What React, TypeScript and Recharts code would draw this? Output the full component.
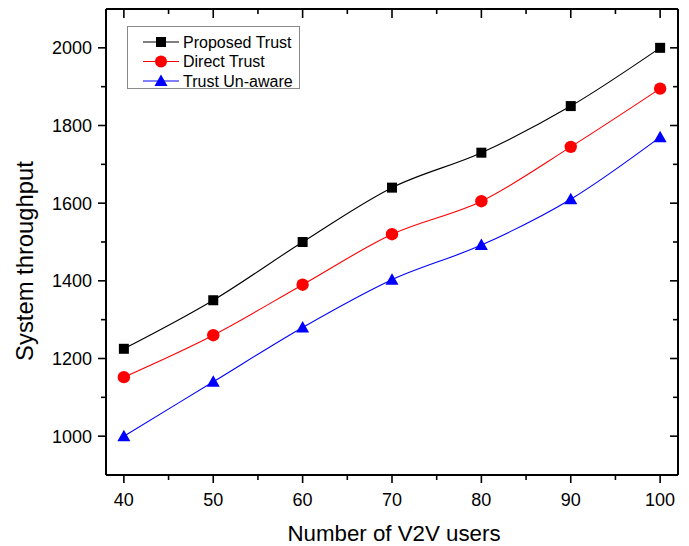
import React from 'react';
import { LineChart, Line, XAxis, YAxis } from 'recharts';

const xValues = [40, 50, 60, 70, 80, 90, 100];
const proposedTrust = [1225, 1350, 1500, 1640, 1730, 1850, 2000];
const directTrust = [1152, 1260, 1390, 1520, 1605, 1745, 1895];
const trustUnaware = [1000, 1140, 1280, 1403, 1492, 1610, 1770];

const xTicks = [40, 45, 50, 55, 60, 65, 70, 75, 80, 85, 90, 95, 100];
const yTicks = [1000, 1100, 1200, 1300, 1400, 1500, 1600, 1700, 1800, 1900, 2000];

const data = xValues.map((x, i) => ({
  x,
  proposed: proposedTrust[i],
  direct: directTrust[i],
  unaware: trustUnaware[i],
}));

const FONT = '"Liberation Sans", Arial, sans-serif';

const BottomTick = (props: any) => {
  const { x, y, payload } = props;
  const major = payload.value % 10 === 0;
  return (
    <g>
      <line x1={x} y1={y} x2={x} y2={y + (major ? 8 : 5)} stroke="#000" strokeWidth={1.6} />
      {major && (
        <text x={x} y={y + 31} textAnchor="middle" fontSize={18} fontFamily={FONT} fill="#000">
          {payload.value}
        </text>
      )}
    </g>
  );
};

const TopTick = (props: any) => {
  const { x, y, payload } = props;
  const major = payload.value % 10 === 0;
  return <line x1={x} y1={y} x2={x} y2={y + (major ? 9 : 5)} stroke="#000" strokeWidth={1.6} />;
};

const LeftTick = (props: any) => {
  const { x, y, payload } = props;
  const major = payload.value % 200 === 0;
  return (
    <g>
      <line x1={x} y1={y} x2={x - (major ? 8 : 5)} y2={y} stroke="#000" strokeWidth={1.6} />
      {major && (
        <text x={x - 14} y={y + 6.5} textAnchor="end" fontSize={18} fontFamily={FONT} fill="#000">
          {payload.value}
        </text>
      )}
    </g>
  );
};

const RightTick = (props: any) => {
  const { x, y, payload } = props;
  const major = payload.value % 200 === 0;
  return <line x1={x} y1={y} x2={x - (major ? 8 : 5)} y2={y} stroke="#000" strokeWidth={1.6} />;
};

const Square = (props: any) => {
  const { cx, cy } = props;
  if (cx == null || cy == null) return null;
  return <rect x={cx - 5} y={cy - 5} width={10} height={10} fill="#000" />;
};
const Dot = (props: any) => {
  const { cx, cy } = props;
  if (cx == null || cy == null) return null;
  return <circle cx={cx} cy={cy} r={6.2} fill="#ff0000" />;
};
const Tri = (props: any) => {
  const { cx, cy } = props;
  if (cx == null || cy == null) return null;
  return <polygon points={`${cx},${cy - 6.5} ${cx + 6.5},${cy + 5} ${cx - 6.5},${cy + 5}`} fill="#0000ff" />;
};

const legendItems = [
  { name: 'Proposed Trust', color: '#000000', shape: 'square' },
  { name: 'Direct Trust', color: '#ff0000', shape: 'circle' },
  { name: 'Trust Un-aware', color: '#0000ff', shape: 'triangle' },
];

export default function App() {
  return (
    <div style={{ position: 'absolute', left: 0, top: 0, width: 689, height: 546, background: '#fff' }}>
      <LineChart width={689} height={546} data={data} margin={{ top: 0, right: 0, bottom: 0, left: 0 }}>
        <XAxis
          xAxisId="b"
          dataKey="x"
          type="number"
          domain={[38, 102]}
          ticks={xTicks}
          interval={0}
          height={71}
          tickSize={0}
          tickMargin={0}
          tickLine={false}
          tick={<BottomTick />}
          axisLine={{ stroke: '#000', strokeWidth: 2 }}
          allowDataOverflow
        />
        <XAxis
          xAxisId="t"
          orientation="top"
          dataKey="x"
          type="number"
          domain={[38, 102]}
          ticks={xTicks}
          interval={0}
          height={9}
          tickSize={0}
          tickMargin={0}
          tickLine={false}
          tick={<TopTick />}
          axisLine={{ stroke: '#000', strokeWidth: 2 }}
          allowDataOverflow
        />
        <YAxis
          yAxisId="l"
          type="number"
          domain={[900, 2100]}
          ticks={yTicks}
          interval={0}
          width={106}
          tickSize={0}
          tickMargin={0}
          tickLine={false}
          tick={<LeftTick />}
          axisLine={{ stroke: '#000', strokeWidth: 2 }}
          allowDataOverflow
        />
        <YAxis
          yAxisId="r"
          orientation="right"
          type="number"
          domain={[900, 2100]}
          ticks={yTicks}
          interval={0}
          width={11}
          tickSize={0}
          tickMargin={0}
          tickLine={false}
          tick={<RightTick />}
          axisLine={{ stroke: '#000', strokeWidth: 2 }}
          allowDataOverflow
        />
        <Line xAxisId="b" yAxisId="l" type="monotone" dataKey="proposed" stroke="#000000" strokeWidth={1.1} dot={<Square />} isAnimationActive={false} />
        <Line xAxisId="b" yAxisId="l" type="monotone" dataKey="direct" stroke="#ff0000" strokeWidth={1.1} dot={<Dot />} isAnimationActive={false} />
        <Line xAxisId="b" yAxisId="l" type="monotone" dataKey="unaware" stroke="#0000ff" strokeWidth={1.1} dot={<Tri />} isAnimationActive={false} />
      </LineChart>

      <div
        style={{
          position: 'absolute',
          left: 127,
          top: 26,
          width: 173,
          height: 63,
          border: '1px solid #8a8a8a',
          background: '#fff',
          boxSizing: 'border-box',
        }}
      >
        <svg width={173} height={63} style={{ position: 'absolute', left: 0, top: 0 }}>
          {legendItems.map((it, i) => {
            const cy = 15 + i * 19.5;
            const cx = 33;
            return (
              <g key={it.name}>
                <line x1={15} x2={51} y1={cy} y2={cy} stroke={it.color} strokeWidth={1.2} />
                {it.shape === 'square' && <rect x={cx - 5} y={cy - 5} width={10} height={10} fill={it.color} />}
                {it.shape === 'circle' && <circle cx={cx} cy={cy} r={6} fill={it.color} />}
                {it.shape === 'triangle' && (
                  <polygon points={`${cx},${cy - 6.5} ${cx + 6.5},${cy + 5} ${cx - 6.5},${cy + 5}`} fill={it.color} />
                )}
                <text x={55} y={cy + 5.5} fontSize={16} fontFamily={FONT} fill="#000">
                  {it.name}
                </text>
              </g>
            );
          })}
        </svg>
      </div>

      <div
        style={{
          position: 'absolute',
          left: 0,
          top: 521,
          width: 788,
          textAlign: 'center',
          fontFamily: FONT,
          fontSize: 22.3,
          color: '#000',
          lineHeight: '26px',
        }}
      >
        Number of V2V users
      </div>
      <div
        style={{
          position: 'absolute',
          left: 25,
          top: 261,
          transform: 'translate(-50%, -50%) rotate(-90deg)',
          whiteSpace: 'nowrap',
          fontFamily: FONT,
          fontSize: 23.8,
          color: '#000',
          lineHeight: '26px',
        }}
      >
        System throughput
      </div>
    </div>
  );
}
